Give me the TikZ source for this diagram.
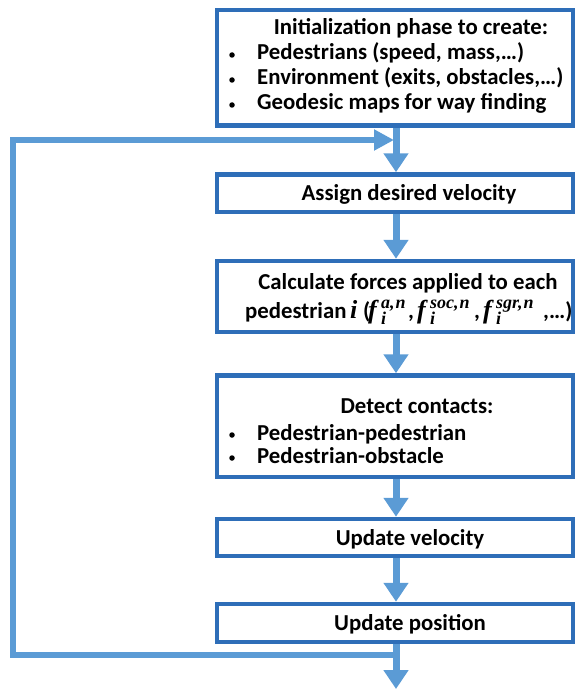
\documentclass[tikz,border=0pt]{standalone}
\usepackage{fontspec}
\setmainfont{Carlito}
\newfontfamily\symserif{Liberation Serif}
\usetikzlibrary{arrows.meta}
\definecolor{boxblue}{HTML}{2E6EB8}
\definecolor{flowblue}{HTML}{5B9BD5}
% bold italic symbols with scripts
\newcommand{\bigsym}{\symserif\fontsize{26}{28}\selectfont\bfseries\itshape}
\newcommand{\smallsym}{\symserif\fontsize{18}{19}\selectfont\bfseries\itshape}
% \forcesym{superscript}{width of the script block}
\newcommand{\forcesym}[2]{\makebox[13pt][l]{\bigsym f}%
  \makebox[#2][l]{\rlap{\raisebox{-6pt}{\smallsym i}}\raisebox{10pt}{\smallsym #1}}}
\begin{document}
\begin{tikzpicture}[x=1pt,y=-1pt,
  stepbox/.style={draw=boxblue,line width=4.5pt,fill=white,inner sep=0pt,minimum width=356pt},
  flow/.style={draw=flowblue,line width=7pt,-{Triangle[width=24pt,length=19pt]}},
  loopline/.style={draw=flowblue,line width=6pt},
  backflow/.style={draw=flowblue,line width=6pt,-{Triangle[width=20pt,length=20pt]}},
  txt/.style={font=\bfseries\fontsize{22.8}{26}\selectfont,inner sep=0pt,anchor=base},
  itm/.style={txt,anchor=base west},
  bul/.style={circle,fill=black,inner sep=0pt,minimum size=5.5pt}]
\useasboundingbox (0,0) rectangle (576,690);
% process boxes
\node[stepbox,minimum height=115.5pt] (init) at (395,67.75) {};
\node[stepbox,minimum height=37.5pt] (assign) at (395,193.25) {};
\node[stepbox,minimum height=71pt] (forces) at (395,296.5) {};
\node[stepbox,minimum height=101.5pt] (contact) at (395,426.25) {};
\node[stepbox,minimum height=37pt] (vel) at (395,537.5) {};
\node[stepbox,minimum height=38pt] (pos) at (395,623) {};
% texts of the initialization box
\node[txt] (t1) at (411,35) {Initialization phase to create:};
\node[bul] (b1) at (232,55) {};
\node[itm] (t2) at (257,60) {Pedestrians (speed, mass,…)};
\node[bul] (b2) at (232,80) {};
\node[itm] (t3) at (257,85) {Environment (exits, obstacles,…)};
\node[bul] (b3) at (232,105) {};
\node[itm] (t4) at (257,110) {Geodesic maps for way finding};
% other texts
\node[txt] (t5) at (409,200) {Assign desired velocity};
\node[txt] (t6) at (408,289) {Calculate forces applied to each};
\node[itm] (t7) at (245,318) {\makebox[105pt][l]{pedestrian}\makebox[13pt][l]{\bigsym i}\makebox[5pt][l]{(}%
  \forcesym{a,\kern1pt n}{27pt}\makebox[9pt][l]{,}%
  \forcesym{soc,\kern1pt n}{44pt}\makebox[9pt][l]{,}%
  \forcesym{sgr,\kern1pt n}{44pt}\kern3pt,…)};
\node[txt] (t8) at (417,413) {Detect contacts:};
\node[bul] (b4) at (232,435) {};
\node[itm] (t9) at (257,440) {Pedestrian-pedestrian};
\node[bul] (b5) at (232,458) {};
\node[itm] (t10) at (257,463) {Pedestrian-obstacle};
\node[txt] (t11) at (410,545) {Update velocity};
\node[txt] (t12) at (410,630) {Update position};
% connectors
\coordinate (join) at (396,140);
\coordinate (split) at (396,655);
\coordinate (out) at (396,689);
\coordinate (left) at (12.5,655);
\draw[flow] (init.south -| join) -- (assign.north -| join);
\draw[flow] (assign.south -| join) -- (forces.north -| join);
\draw[flow] (forces.south -| join) -- (contact.north -| join);
\draw[flow] (contact.south -| join) -- (vel.north -| join);
\draw[flow] (vel.south -| join) -- (pos.north -| join);
\draw[flow] (pos.south -| join) -- (out);
\draw[loopline] (split) -- (left) |- ([xshift=-18pt]join);
\draw[backflow] ([xshift=-22pt]join) -- ([xshift=-2pt]join);
\end{tikzpicture}
\end{document}
